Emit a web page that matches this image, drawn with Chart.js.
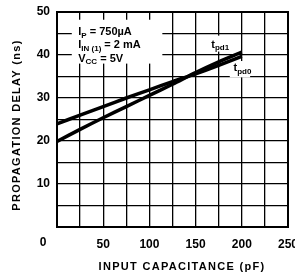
<!DOCTYPE html>
<html>
<head>
<meta charset="utf-8">
<script src="https://cdn.jsdelivr.net/npm/chart.js@4"></script>
<style>
html,body{margin:0;padding:0;background:#fff}
#wrap{width:295px;height:275px}
</style>
</head>
<body>
<div id="wrap"><canvas id="c"></canvas></div>
<script>
// input capacitance (pF) and propagation delays (ns)
const capacitance = [0, 25, 50, 75, 100, 125, 150, 175, 200];
const tpd0 = [24.0, 26.0, 28.0, 30.0, 31.9, 33.8, 35.6, 37.6, 39.7];
const tpd1 = [19.9, 22.7, 25.4, 28.0, 30.6, 33.2, 35.9, 38.4, 40.7];
const xLabels = [50, 100, 150, 200, 250];
const yLabels = [10, 20, 30, 40, 50];

const FONT = 'Liberation Sans';

function pts(vals) {
	return capacitance.map((c, i) => ({x: c, y: vals[i]}));
}

// text with subscripts: parts = [[text, isSub], ...]
function rich(ctx, x, y, parts, size) {
	ctx.textBaseline = 'middle';
	ctx.textAlign = 'left';
	parts.forEach(p => {
		if (p[1]) {
			ctx.font = 'bold ' + Math.round(size * 0.72) + 'px ' + FONT;
			ctx.fillText(p[0], x, y + size * 0.3);
		} else {
			ctx.font = 'bold ' + size + 'px ' + FONT;
			ctx.fillText(p[0], x, y);
		}
		x += ctx.measureText(p[0]).width;
	});
}

const paper = {
	id: 'paper',
	beforeDatasetsDraw(chart) {
		const ctx = chart.ctx, xs = chart.scales.x, ys = chart.scales.y;
		ctx.save();
		ctx.fillStyle = '#fff';
		// blank areas behind the notes
		[[16, 48.2, 114, 38.0], [160, 44.5, 182, 40.8], [187, 38.6, 209, 34.8]].forEach(b => {
			const x0 = xs.getPixelForValue(b[0]), y0 = ys.getPixelForValue(b[1]);
			ctx.fillRect(x0, y0, xs.getPixelForValue(b[2]) - x0, ys.getPixelForValue(b[3]) - y0);
		});
		ctx.restore();
	},
	afterDraw(chart) {
		const ctx = chart.ctx, xs = chart.scales.x, ys = chart.scales.y, a = chart.chartArea;
		ctx.save();
		ctx.strokeStyle = '#000';
		ctx.lineWidth = 2;
		ctx.strokeRect(a.left, a.top, a.right - a.left, a.bottom - a.top);
		ctx.fillStyle = '#000';

		const lx = xs.getPixelForValue(23);
		rich(ctx, lx, ys.getPixelForValue(45.3), [['I', 0], ['P', 1], [' = 750\u00b5A', 0]], 11);
		rich(ctx, lx, ys.getPixelForValue(42.3), [['I', 0], ['IN (1)', 1], [' = 2 mA', 0]], 11);
		rich(ctx, lx, ys.getPixelForValue(39.1), [['V', 0], ['CC', 1], [' = 5V', 0]], 11);
		rich(ctx, xs.getPixelForValue(167), ys.getPixelForValue(42.4), [['t', 0], ['pd1', 1]], 11);
		rich(ctx, xs.getPixelForValue(191), ys.getPixelForValue(36.9), [['t', 0], ['pd0', 1]], 11);

		// shared origin label
		ctx.font = 'bold 12px ' + FONT;
		ctx.textAlign = 'center';
		ctx.textBaseline = 'middle';
		ctx.fillText('0', 43, 243);

		// axis titles
		ctx.letterSpacing = '1.3px';
		ctx.font = 'bold 11px ' + FONT;
		ctx.fillText('INPUT CAPACITANCE (pF)', 182, 267);
		ctx.translate(17, 125);
		ctx.rotate(-Math.PI / 2);
		ctx.fillText('PROPAGATION DELAY (ns)', 0, 0);
		ctx.restore();
	}
};

new Chart(document.getElementById('c'), {
	type: 'line',
	data: {
		datasets: [
			{label: 'tpd0', data: pts(tpd0), borderColor: '#000', borderWidth: 3.5, pointRadius: 0, tension: 0.3, fill: false},
			{label: 'tpd1', data: pts(tpd1), borderColor: '#000', borderWidth: 3.5, pointRadius: 0, tension: 0.3, fill: false}
		]
	},
	options: {
		responsive: true,
		maintainAspectRatio: false,
		animation: false,
		layout: {padding: {left: 0, right: 7, top: 12, bottom: 0}},
		plugins: {legend: {display: false}, tooltip: {enabled: false}},
		scales: {
			x: {
				type: 'linear', min: 0, max: 250,
				afterFit: s => { s.height = 48; s.paddingLeft = 0; s.paddingRight = 0; },
				grid: {color: '#000', lineWidth: 1.3, drawTicks: false},
				border: {display: false},
				ticks: {
					stepSize: 25, padding: 10, color: '#000', maxRotation: 0, autoSkip: false,
					font: {family: FONT, size: 12, weight: 'bold'},
					callback: v => xLabels.includes(v) ? String(v) : ''
				}
			},
			y: {
				min: 0, max: 50,
				afterFit: s => { s.width = 57; s.paddingTop = 0; s.paddingBottom = 0; },
				grid: {color: '#000', lineWidth: 1.3, drawTicks: false},
				border: {display: false},
				ticks: {
					stepSize: 5, padding: 7, color: '#000', autoSkip: false,
					font: {family: FONT, size: 12, weight: 'bold'},
					callback: v => yLabels.includes(v) ? String(v) : ''
				}
			}
		}
	},
	plugins: [paper]
});
</script>
</body>
</html>
